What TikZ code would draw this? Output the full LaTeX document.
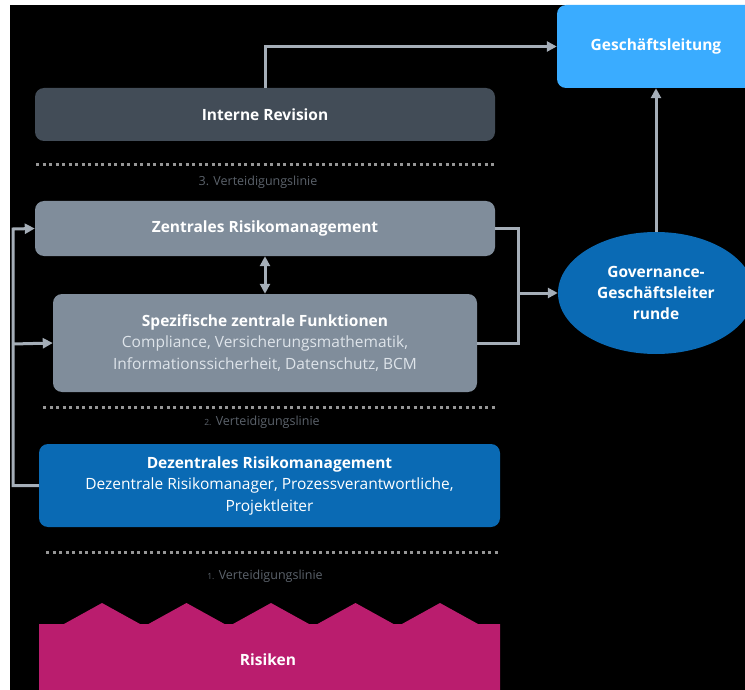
\documentclass[tikz,border=0pt]{standalone}
\usepackage{fontspec}
\setmainfont{Open Sans}
\usetikzlibrary{arrows.meta,shapes.geometric,positioning}
\definecolor{glblue}{RGB}{58,172,255}
\definecolor{revgray}{RGB}{66,76,87}
\definecolor{zentgray}{RGB}{128,141,155}
\definecolor{dezblue}{RGB}{10,106,180}
\definecolor{riskpink}{RGB}{186,29,110}
\definecolor{conngray}{RGB}{165,174,184}
\definecolor{dotgray}{RGB}{150,150,150}
\definecolor{linietext}{RGB}{92,99,108}
\definecolor{sublight}{RGB}{222,228,234}
\begin{document}
\begin{tikzpicture}[x=1pt,y=-1pt,
    box/.style={rectangle,rounded corners=9pt,text=white,align=center,inner sep=0pt,
      font=\fontsize{15.5}{21.5}\selectfont},
    wire/.style={draw=conngray,line width=3pt},
    conn/.style={wire,-{Triangle[length=10pt,width=10pt]}},
    sep/.style={draw=dotgray,line width=3pt,dash pattern=on 3pt off 3.5pt},
    linie/.style={text=linietext,font=\fontsize{12.5}{14}\selectfont}]
  \useasboundingbox (0,0) rectangle (745,690);
  \clip (0,0) rectangle (745,690);
  \fill[black] (10,5) rectangle (745,690);

  \node[box,fill=glblue,minimum width=198,minimum height=83] (gl) at (656,46.5) {\bfseries Geschäftsleitung};
  \node[box,fill=revgray,minimum width=460,minimum height=53] (rev) at (265,114.5) {\bfseries Interne Revision};
  \draw[sep] (36,165) -- (495,165);
  \node[linie] (linie3) at (258,182) {3. Verteidigungslinie};

  \node[box,fill=zentgray,minimum width=460,minimum height=55] (zrm) at (265,228.5) {\bfseries Zentrales Risikomanagement};
  \node[box,fill=zentgray,text=sublight,minimum width=424,minimum height=98] (szf) at (265,343)
    {{\color{white}\bfseries Spezifische zentrale Funktionen}\\
     Compliance, Versicherungsmathematik,\\
     Informationssicherheit, Datenschutz, BCM};
  \draw[sep] (43,407) -- (495,407);
  \node[linie] (linie2) at (262,422) {{\fontsize{8.5}{10}\selectfont 2.} Verteidigungslinie};

  \node[box,fill=dezblue,minimum width=461,minimum height=83] (drm) at (269.5,485.5)
    {\bfseries Dezentrales Risikomanagement\\
     Dezentrale Risikomanager, Prozessverantwortliche,\\
     Projektleiter};
  \draw[sep] (46,552) -- (500,552);
  \node[linie] (linie1) at (265,576) {{\fontsize{8.5}{10}\selectfont 1.} Verteidigungslinie};

  \fill[riskpink] (39,690) -- (39,624)
    \foreach \i in {0,...,4}{ -- ({64+84.5*\i},624) -- ({102+84.5*\i},603) -- ({140+84.5*\i},624)}
    -- (500,624) -- (500,690) -- cycle;
  \node[text=white,font=\fontsize{15.5}{17}\selectfont\bfseries] (risiken) at (268,660) {Risiken};

  \node[ellipse,fill=dezblue,text=white,align=center,inner sep=0pt,minimum width=196,minimum height=122,
    font=\fontsize{15.5}{21}\selectfont\bfseries] (gov) at (656,293) {Governance-\\Geschäftsleiter\\runde};

  \coordinate (merge) at (518,293);
  \coordinate (bustop) at (13,229);
  \coordinate (busmid) at (13,344);

  \draw[conn] (rev.north) |- (gl.west);
  \draw[conn] (gov.north) -- (gl.south);
  \draw[wire,{Triangle[length=10pt,width=10pt]}-{Triangle[length=10pt,width=10pt]}] (zrm.south) -- (szf.north);
  \draw[wire] (zrm.east) -| (merge);
  \draw[wire] (szf.east) -| (merge);
  \draw[conn] (merge) -- (gov.west);
  \draw[conn] (drm.west) -| (bustop) -- (zrm.west);
  \draw[conn] (busmid) -- (szf.west);
\end{tikzpicture}
\end{document}
